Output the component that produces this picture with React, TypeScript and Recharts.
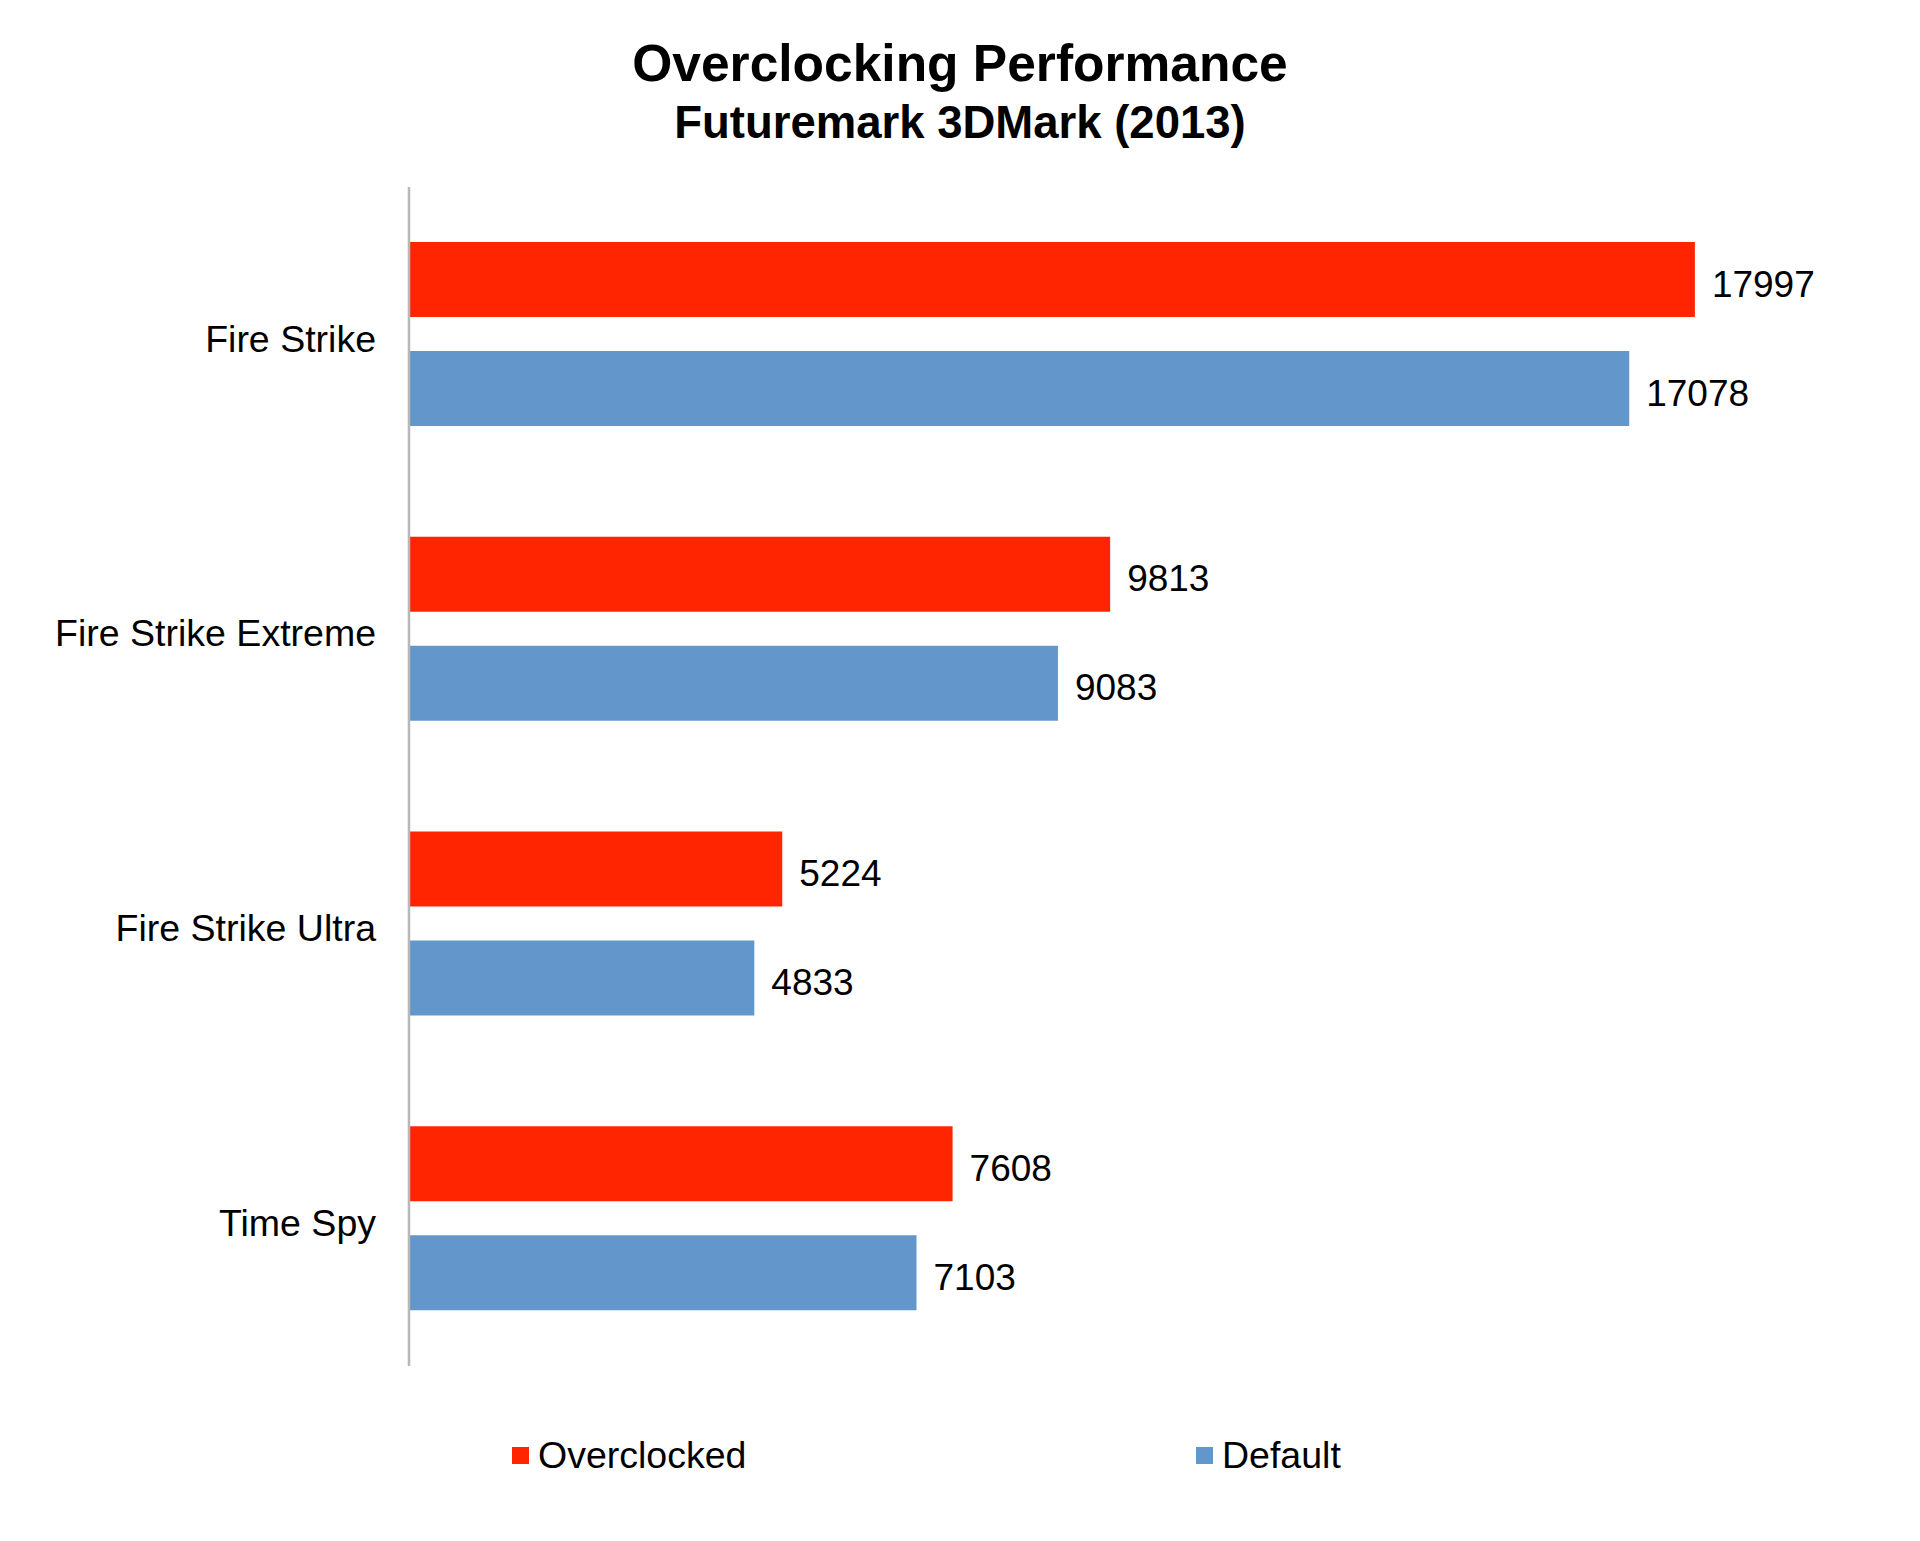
import { BarChart, Bar, XAxis, YAxis, LabelList } from 'recharts'

const categories = ['Fire Strike', 'Fire Strike Extreme', 'Fire Strike Ultra', 'Time Spy']
const overclocked = [17997, 9813, 5224, 7608]
const defaults = [17078, 9083, 4833, 7103]

const RED = '#ff2500'
const BLUE = '#6396ca'
const FONT = '"Liberation Sans", Arial, Helvetica, sans-serif'

const data = categories.map((name, i) => ({
  name,
  Overclocked: overclocked[i],
  Default: defaults[i],
}))

export default function App() {
  return (
    <div style={{ position: 'absolute', left: 0, top: 0, width: 1920, height: 1541, background: '#fff', fontFamily: FONT }}>
      <div style={{ position: 'absolute', left: 0, width: 1920, top: 33, textAlign: 'center', fontWeight: 'bold', fontSize: 51.5, lineHeight: '60px', color: '#000' }}>
        Overclocking Performance
      </div>
      <div style={{ position: 'absolute', left: 0, width: 1920, top: 97, textAlign: 'center', fontWeight: 'bold', fontSize: 45.5, lineHeight: '52px', color: '#000' }}>
        Futuremark 3DMark (2013)
      </div>
      <BarChart
        width={1920}
        height={1541}
        data={data}
        layout="vertical"
        margin={{ top: 187, right: 82, bottom: 175, left: 0 }}
        barCategoryGap={55}
        barGap={34}
      >
        <XAxis type="number" domain={[0, 20000]} hide />
        <YAxis
          type="category"
          dataKey="name"
          width={409}
          tickLine={false}
          tickSize={0}
          tickMargin={33}
          axisLine={{ stroke: '#b8b8b8', strokeWidth: 2.5 }}
          tick={{ fill: '#000', fontSize: 37.5, fontFamily: FONT, dy: 4 }}
        />
        <Bar dataKey="Overclocked" fill={RED} isAnimationActive={false}>
          <LabelList dataKey="Overclocked" position="right" offset={17} dy={4} fill="#000" fontSize={37} fontFamily={FONT} />
        </Bar>
        <Bar dataKey="Default" fill={BLUE} isAnimationActive={false}>
          <LabelList dataKey="Default" position="right" offset={17} dy={4} fill="#000" fontSize={37} fontFamily={FONT} />
        </Bar>
      </BarChart>
      {[
        { label: 'Overclocked', color: RED, left: 512 },
        { label: 'Default', color: BLUE, left: 1196 },
      ].map((item) => (
        <div key={item.label} style={{ position: 'absolute', left: item.left, top: 1433, height: 44, display: 'flex', alignItems: 'center', fontSize: 37.5, color: '#000' }}>
          <span style={{ display: 'inline-block', width: 17, height: 17, background: item.color, marginRight: 9 }} />
          {item.label}
        </div>
      ))}
    </div>
  )
}
